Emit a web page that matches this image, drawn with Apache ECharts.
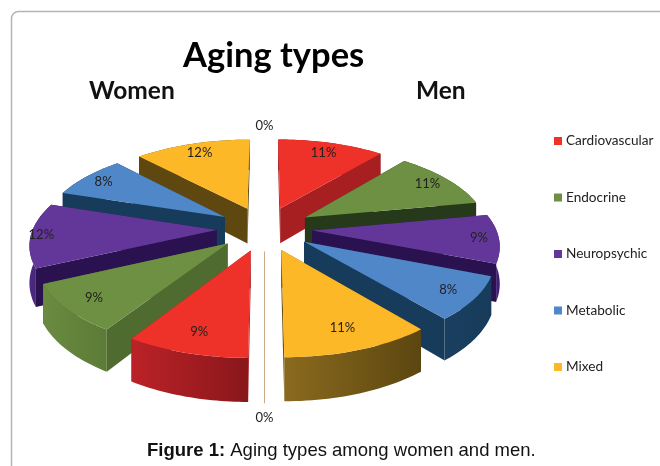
<!DOCTYPE html>
<html>
<head>
<meta charset="utf-8">
<style>html,body{margin:0;padding:0;background:#fff}#c{width:660px;height:466px}</style>
<script src="https://cdn.jsdelivr.net/npm/echarts@6/dist/echarts.min.js"></script>
</head>
<body>
<div id="c"></div>
<script>
// ---- data ----
const categories = ['Cardiovascular', 'Endocrine', 'Neuropsychic', 'Metabolic', 'Mixed'];
const menValues = [11, 11, 9, 8, 11];
const menZero = 0;
const womenValues = [9, 9, 12, 8, 12];
const womenZero = 0;
const zeroName = 'Other';

// ---- styles ----
const topColors = ['#ee3129', '#6d9042', '#63379a', '#4f87c9', '#fdb827'];
const radialMen = ['#a81f22', '#26391a', '#2a114f', '#173b5a', '#6b5112'];
const radialWomen = ['#a81f22', '#4f6b30', '#2a114f', '#173b5a', '#5f4710'];
const outerMen = [['#a81f22', '#a81f22'], ['#26391a', '#26391a'], ['#5d3590', '#3b1c6b'], ['#1a3f60', '#173b5a'], ['#8a6a1e', '#5c4610']];
const outerWomen = [['#bb2227', '#89171b'], ['#6a8b40', '#5c7b37'], ['#4d2a80', '#3b1c6b'], ['#173b5a', '#173b5a'], ['#6b5112', '#6b5112']];
const labelRhoMen = [0.88, 0.9, 0.93, 0.9, 0.86];
const labelRhoWomen = [0.87, 0.89, 0.97, 0.91, 0.89];
const zeroRho = [1.36, 1.19];

// ---- projection of the tilted pie ----
const CX = 264.5, CY = 228.5, BX = 228, BY = 105, F = 5.5, EXPLODE = 0.21, R = 0.805, DEPTH = 36;
function proj(u, v, drop) {
  const s = F / (F - v);
  return [CX + BX * u * s, CY + BY * v * s + (drop ? DEPTH * s : 0)];
}

function renderSlice(catIndex, isZero) {
  return function (params, api) {
    const side = params.dataIndex; // 0 men, 1 women
    const start = api.value(0), val = api.value(1);
    const a0 = start * 3.6 * Math.PI / 180;
    const a1 = (start + val) * 3.6 * Math.PI / 180;
    const bis = (a0 + a1) / 2;
    const ou = EXPLODE * Math.sin(bis), ov = -EXPLODE * Math.cos(bis);
    const base = Math.round(-Math.cos(bis) * 100 + 200) * 10;
    const rho = isZero ? zeroRho[side] : (side ? labelRhoWomen : labelRhoMen)[catIndex];
    const lp = proj(rho * Math.sin(bis), -rho * Math.cos(bis), false);
    const label = {
      type: 'text', z2: 9000,
      style: { text: val + '%', x: lp[0], y: lp[1], align: 'center', verticalAlign: 'middle',
        fill: '#222', font: '13px Lato, sans-serif' }
    };
    if (isZero) {
      const children = [label];
      if (ov > 0) {
        const pts = [proj(ou, ov), proj(ou, ov + R), proj(ou, ov + R, true)];
        children.push({ type: 'polyline', z2: base, shape: { points: pts },
          style: { stroke: '#c9ab8c', lineWidth: 1, fill: null } });
      }
      return { type: 'group', children };
    }
    const N = 28, top = [], low = [];
    for (let i = 0; i <= N; i++) {
      const a = a0 + (a1 - a0) * i / N;
      const u = ou + R * Math.sin(a), v = ov - R * Math.cos(a);
      top.push(proj(u, v)); low.push(proj(u, v, true));
    }
    const apex = proj(ou, ov), apexLow = proj(ou, ov, true);
    const radial = (side ? radialWomen : radialMen)[catIndex];
    const outer = (side ? outerWomen : outerMen)[catIndex];
    const wallA = [apex, top[0], low[0], apexLow];
    const wallB = [apex, top[N], low[N], apexLow];
    const outerPts = top.concat(low.slice().reverse());
    const meanY = p => p.reduce((s, q) => s + q[1], 0) / p.length;
    const faces = [
      { pts: wallA, fill: radial }, { pts: wallB, fill: radial },
      { pts: outerPts, fill: { type: 'linear', x: 0, y: 0, x2: 1, y2: 0,
          colorStops: [{ offset: 0, color: outer[0] }, { offset: 1, color: outer[1] }] } }
    ].sort((a, b) => meanY(a.pts) - meanY(b.pts));
    const children = faces.map((f, i) => ({
      type: 'polygon', z2: base + i, shape: { points: f.pts },
      style: { fill: f.fill, stroke: null }
    }));
    children.push({
      type: 'polygon', z2: base + 5,
      shape: { points: [apex].concat(top) },
      style: { fill: topColors[catIndex], stroke: null }
    });
    children.push(label);
    return { type: 'group', children };
  };
}

// clockwise from the top: men then women
const menTotal = menValues.reduce((a, b) => a + b, 0);
const womenTotal = womenValues.reduce((a, b) => a + b, 0);
function cum(arr, n) { return arr.slice(0, n).reduce((a, b) => a + b, 0); }

const series = categories.map((name, i) => ({
  type: 'custom', name, coordinateSystem: 'none', silent: true, animation: false, clip: false,
  itemStyle: { color: topColors[i] },
  renderItem: renderSlice(i, false),
  data: [
    [cum(menValues, i), menValues[i]],
    [menTotal + menZero + cum(womenValues, i), womenValues[i]]
  ]
}));
series.push({
  type: 'custom', name: zeroName, coordinateSystem: 'none', silent: true, animation: false,
  itemStyle: { color: '#c9ab8c' },
  renderItem: renderSlice(0, true),
  data: [[menTotal, menZero], [menTotal + menZero + womenTotal, womenZero]]
});

const chart = echarts.init(document.getElementById('c'), null, { renderer: 'canvas' });
chart.setOption({
  animation: false,
  backgroundColor: '#fff',
  title: [
    { text: 'Aging types', left: 183, top: 38, textStyle: { fontFamily: 'Lato', fontWeight: 'bold', fontSize: 34.5, color: '#000' }, padding: 0 },
    { text: 'Women', left: 89, top: 79, textStyle: { fontFamily: 'Lato', fontWeight: 'bold', fontSize: 24.5, color: '#111' }, padding: 0 },
    { text: 'Men', left: 416, top: 79, textStyle: { fontFamily: 'Lato', fontWeight: 'bold', fontSize: 24.5, color: '#111' }, padding: 0 },
    { text: '{b|Figure 1:} Aging types among women and men.', left: 147, top: 441, padding: 0,
      textStyle: { fontFamily: 'Liberation Sans', fontSize: 18.5, fontWeight: 'normal', color: '#111',
        rich: { b: { fontFamily: 'Liberation Sans', fontSize: 18.5, fontWeight: 'bold', color: '#111' } } } }
  ],
  legend: {
    data: categories, orient: 'vertical', left: 554, top: 134, padding: 0,
    itemWidth: 8, itemHeight: 8, itemGap: 42.5, icon: 'rect',
    selectedMode: false,
    textStyle: { fontFamily: 'Lato', fontSize: 13.6, color: '#222', padding: [0, 0, 0, -1] }
  },
  graphic: [{
    type: 'rect', silent: true, z: -1,
    shape: { x: 11.5, y: 11.5, width: 760, height: 560, r: 7 },
    style: { fill: '#fff', stroke: '#b4b4b4', lineWidth: 1.5 }
  }],
  series
});
</script>
</body>
</html>
